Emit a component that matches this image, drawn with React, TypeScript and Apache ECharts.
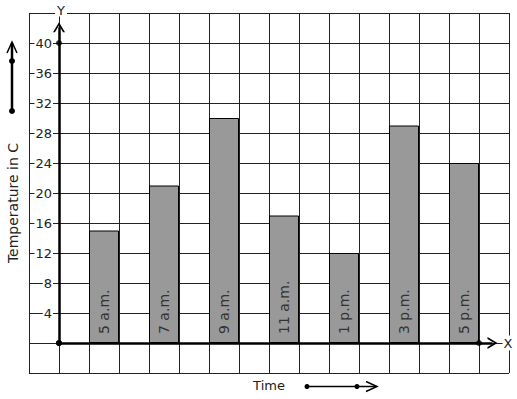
import React, { useEffect, useRef } from "react";
import * as echarts from "echarts";

const times = ["5 a.m.", "7 a.m.", "9 a.m.", "11 a.m.", "1 p.m.", "3 p.m.", "5 p.m."];
const temps = [15, 21, 30, 17, 12, 29, 24];
const yTicks = [4, 8, 12, 16, 20, 24, 28, 32, 36, 40];

const FONT = "DejaVu Sans";
const chevron = "path://M0,10L5,0L10,10L8.4,10L5,3.2L1.6,10Z";

export default function App() {
  const ref = useRef<HTMLDivElement>(null);
  useEffect(() => {
    if (!ref.current) return;
    const chart = echarts.init(ref.current, null, { renderer: "svg" });
    const barData = temps.map((v, i) => ({ value: [1.5 + 2 * i, v], name: times[i] }));
    chart.setOption({
      animation: false,
      textStyle: { fontFamily: FONT },
      grid: { left: 29, top: 13, width: 480, height: 360, containLabel: false },
      xAxis: {
        type: "value",
        min: -1,
        max: 15,
        interval: 1,
        axisLine: { show: false },
        axisTick: { show: false },
        axisLabel: { show: false },
        splitLine: { show: true, lineStyle: { color: "#222", width: 1 } },
      },
      yAxis: {
        type: "value",
        min: -4,
        max: 44,
        interval: 4,
        axisLine: { show: false },
        axisTick: { show: false },
        axisLabel: {
          inside: true,
          margin: 24,
          align: "right",
          fontSize: 13,
          fontFamily: FONT,
          color: "#222",
          backgroundColor: "#fff",
          padding: [0, 1],
          formatter: (v: number) => (yTicks.indexOf(v) >= 0 ? String(v) : ""),
        },
        splitLine: { show: true, lineStyle: { color: "#222", width: 1 } },
      },
      series: [
        {
          type: "bar",
          data: barData,
          barWidth: 30,
          itemStyle: { color: "#999999", borderColor: "#000", borderWidth: 1 },
          label: {
            show: true,
            position: "insideBottom",
            rotate: 90,
            align: "left",
            verticalAlign: "middle",
            distance: 9,
            formatter: "{b}",
            fontSize: 14,
            fontFamily: FONT,
            color: "#333",
          },
          markLine: {
            silent: true,
            label: { show: false },
            lineStyle: { color: "#000", width: 2.5, type: "solid" },
            symbol: ["circle", chevron],
            symbolSize: [12, 10],
            data: [
              [
                { coord: [0, 0], symbol: "circle", symbolSize: 6 },
                { coord: [0, 42.1], symbol: chevron, symbolSize: [12, 10] },
              ],
              [
                { coord: [0, 0], symbol: "circle", symbolSize: 6 },
                { coord: [14.45, 0], symbol: chevron, symbolSize: [12, 10] },
              ],
            ],
          },
        },
        {
          type: "scatter",
          data: [
            [0, 40],
            [14, 0],
          ],
          symbolSize: 6,
          itemStyle: { color: "#000" },
          z: 5,
        },
      ],
      graphic: [
        {
          type: "text",
          x: 61,
          y: 10,
          z: 10,
          style: {
            text: "Y",
            fontSize: 13,
            fontFamily: FONT,
            fill: "#222",
            align: "center",
            verticalAlign: "middle",
            backgroundColor: "#fff",
            padding: [0, 2],
          },
        },
        {
          type: "text",
          x: 508,
          y: 343,
          z: 10,
          style: {
            text: "X",
            fontSize: 13,
            fontFamily: FONT,
            fill: "#222",
            align: "center",
            verticalAlign: "middle",
            backgroundColor: "#fff",
            padding: [1, 1],
          },
        },
        {
          type: "text",
          x: 13,
          y: 203,
          rotation: Math.PI / 2,
          style: {
            text: "Temperature in C",
            fontSize: 14,
            fontFamily: FONT,
            fill: "#222",
            align: "center",
            verticalAlign: "middle",
          },
        },
        {
          type: "text",
          x: 269,
          y: 385,
          style: {
            text: "Time",
            fontSize: 13,
            fontFamily: FONT,
            fill: "#222",
            align: "center",
            verticalAlign: "middle",
          },
        },
        // left vertical arrow
        { type: "line", shape: { x1: 12, y1: 111, x2: 12, y2: 43 }, style: { stroke: "#000", lineWidth: 2.5 } },
        { type: "polyline", shape: { points: [[7, 53], [12, 42], [17, 53]] }, style: { stroke: "#000", lineWidth: 1.5, fill: "none" } },
        { type: "circle", shape: { cx: 12, cy: 111, r: 3 }, style: { fill: "#000" } },
        { type: "circle", shape: { cx: 12, cy: 61, r: 3 }, style: { fill: "#000" } },
        // Time arrow
        { type: "line", shape: { x1: 307, y1: 386.5, x2: 376, y2: 386.5 }, style: { stroke: "#000", lineWidth: 1.5 } },
        { type: "polyline", shape: { points: [[366, 381.5], [377, 386.5], [366, 391.5]] }, style: { stroke: "#000", lineWidth: 1.5, fill: "none" } },
        { type: "circle", shape: { cx: 307, cy: 386.5, r: 2.5 }, style: { fill: "#000" } },
        { type: "circle", shape: { cx: 357, cy: 386.5, r: 2.5 }, style: { fill: "#000" } },
      ],
    });
    return () => chart.dispose();
  }, []);
  return <div ref={ref} style={{ width: 517, height: 399, position: "absolute", left: 0, top: 0, background: "#fff" }} />;
}
